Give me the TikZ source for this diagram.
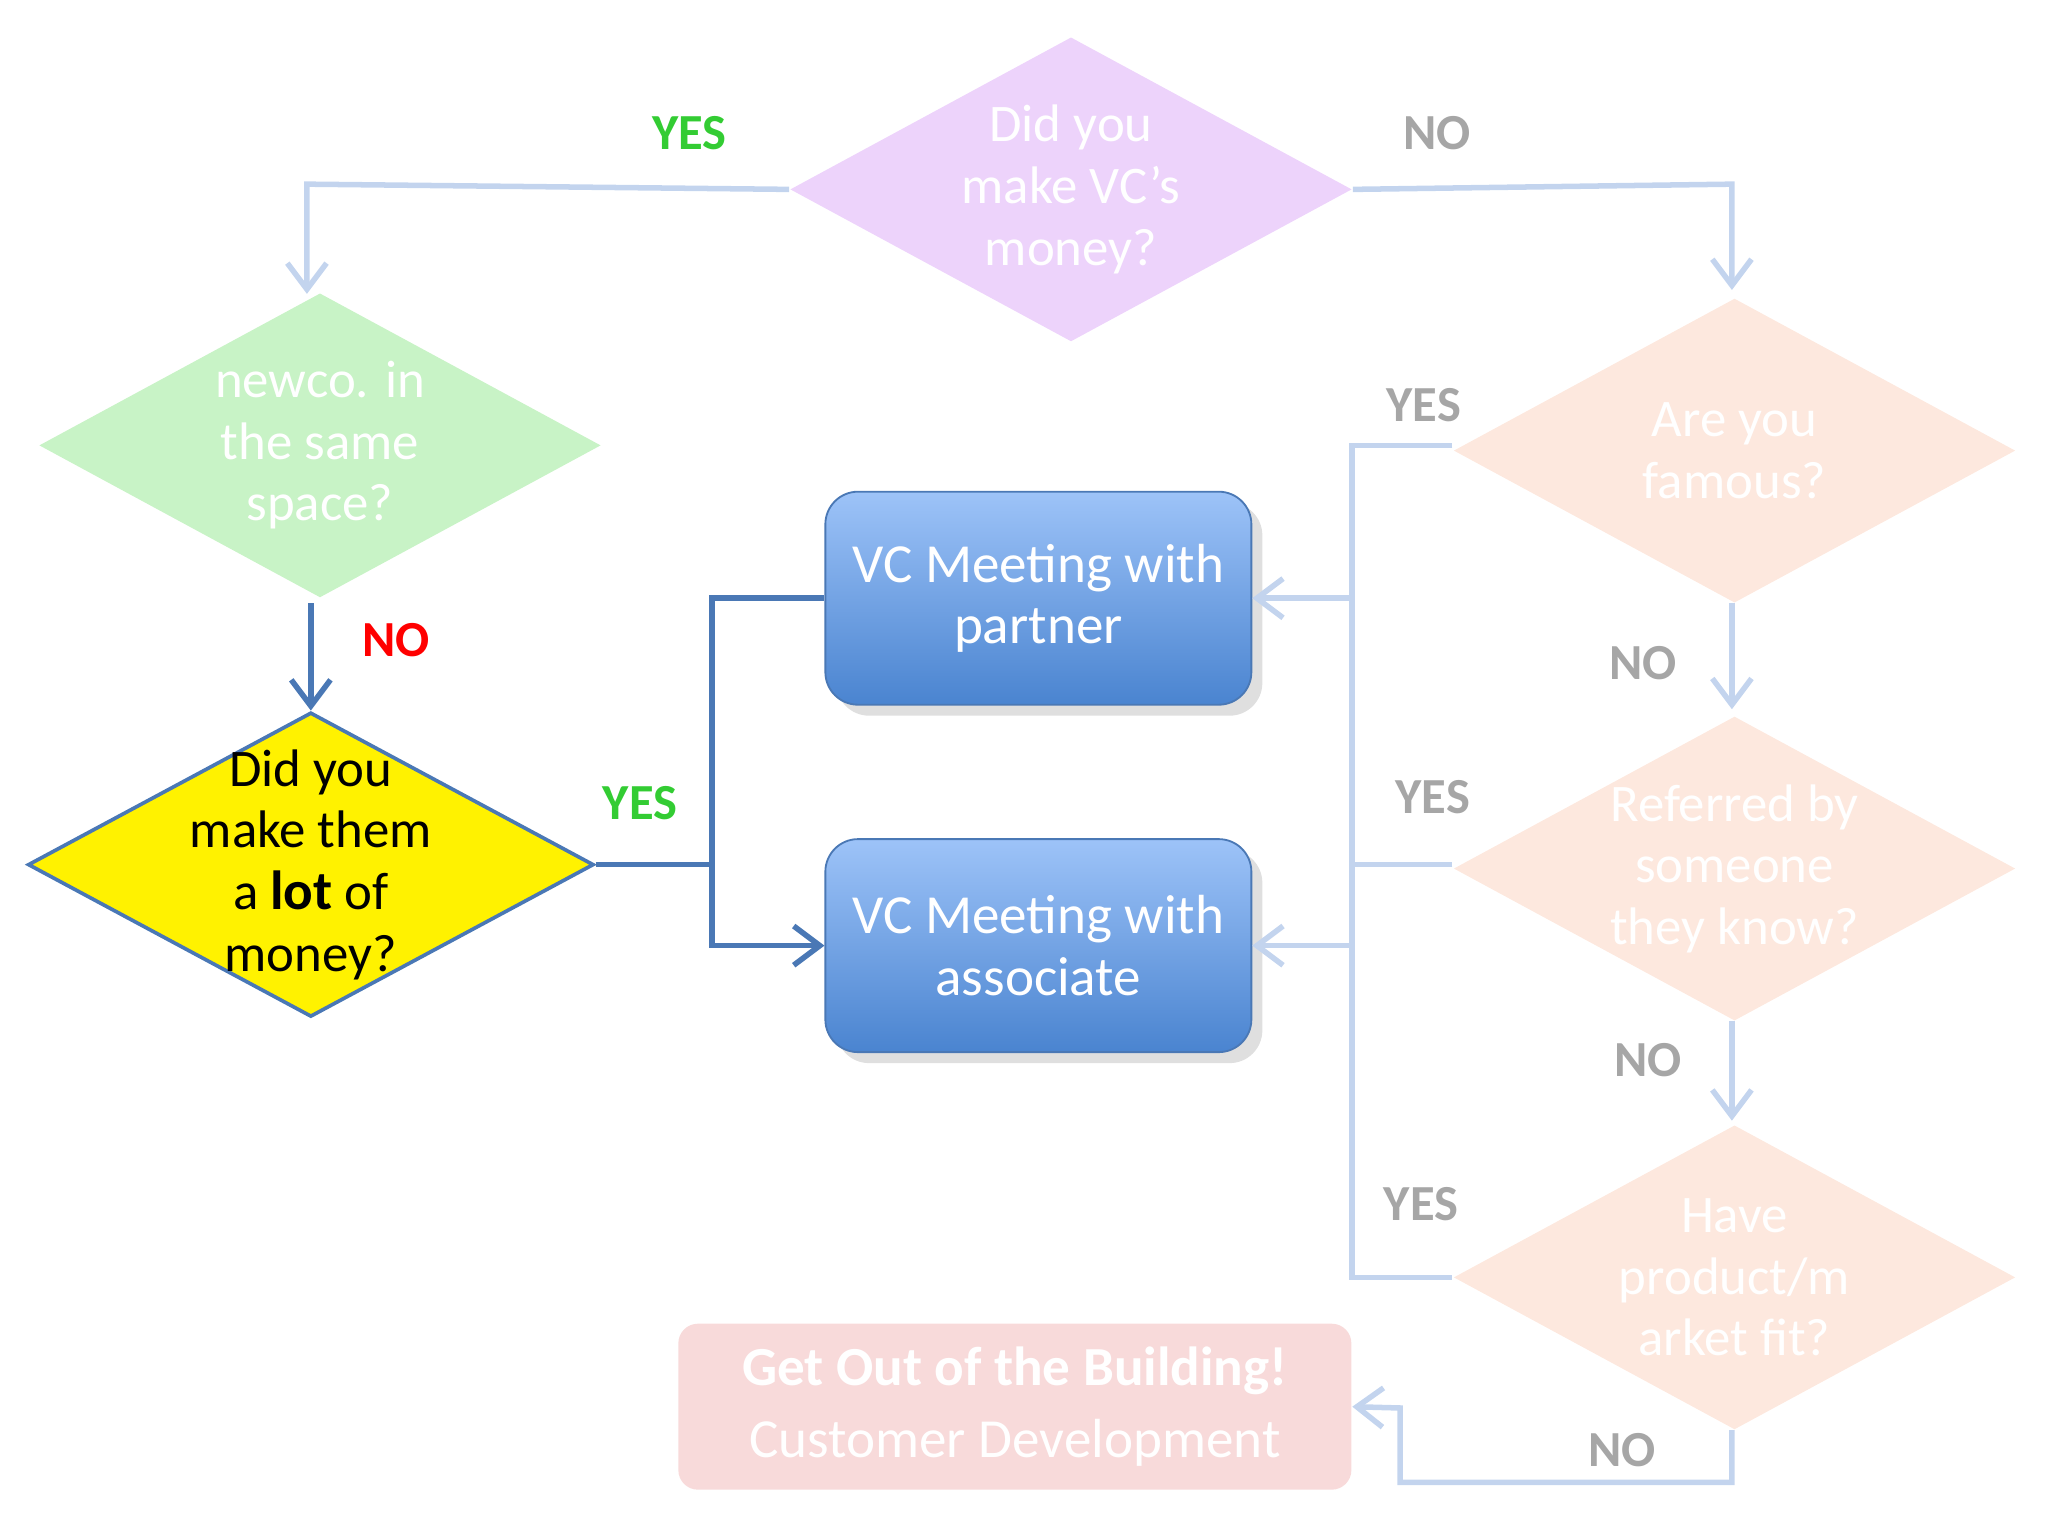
\documentclass[tikz,border=0pt]{standalone}
\usepackage{fontspec}
\setmainfont{Carlito}
\usetikzlibrary{shapes.geometric,arrows.meta,shadows}
\definecolor{lblue}{HTML}{C3D4EE}
\definecolor{dblue}{HTML}{4A78B5}
\definecolor{gtxt}{HTML}{A6A6A6}
\definecolor{ygreen}{HTML}{33CC33}
\definecolor{bt}{HTML}{9DC3F8}
\definecolor{bb}{HTML}{4A84D0}
\definecolor{pur}{HTML}{EDD3FB}
\definecolor{grn}{HTML}{C8F3C6}
\definecolor{ora}{HTML}{FDE8DE}
\definecolor{pnk}{HTML}{F8DADA}
\tikzset{
  dia/.style={diamond,draw=none,minimum width=4.3cm,minimum height=2.33cm,inner sep=0pt,
    label={[align=center,font=\fontsize{11.5}{13.4}\selectfont,text=white]center:#1}},
  box/.style={rounded corners=0.25cm,draw=dblue,top color=bt,bottom color=bb,minimum width=3.26cm,minimum height=1.63cm,align=center,text=white,font=\fontsize{12}{13.4}\selectfont,drop shadow={opacity=0.25}},
  lab/.style={font=\fontsize{11}{13}\selectfont\bfseries,text=gtxt},
  la/.style={draw=lblue,line width=1.2pt,-{Straight Barb[length=2mm,width=3mm]}},
  ln/.style={draw=lblue,line width=1.2pt},
  da/.style={draw=dblue,line width=1.2pt,-{Straight Barb[length=2mm,width=3mm]}},
  dn/.style={draw=dblue,line width=1.2pt}
}
\begin{document}
\begin{tikzpicture}[x=0.01cm,y=-0.01cm]
\useasboundingbox (0,0) rectangle (1568,1176);
\node[dia={Did you\\make VC’s\\money?},fill=pur] (p) at (820,145) {};
\node[dia={newco. in\\the same\\space?},fill=grn] (g) at (245,341) {};
\node[diamond,fill=yellow,draw=dblue,line width=0.8pt,minimum width=4.33cm,minimum height=2.33cm,inner sep=0pt,
  label={[align=center,font=\fontsize{11.5}{13.4}\selectfont,text=black]center:Did you\\make them\\a \textbf{\large lot} of\\money?}] (y) at (238,662) {};
\node[dia={Are you\\famous?},fill=ora] (o1) at (1328,345) {};
\node[dia={Referred by\\someone\\they know?},fill=ora] (o2) at (1328,665) {};
\node[dia={Have\\product/m\\arket fit?},fill=ora] (o3) at (1328,978) {};
\node[box] (b1) at (795,458) {VC Meeting with\\partner};
\node[box] (b2) at (795,724) {VC Meeting with\\associate};
\node[fill=pnk,rounded corners=0.15cm,minimum width=5.15cm,minimum height=1.27cm,align=center,text=white,font=\fontsize{12}{15.5}\selectfont] (c) at (777,1077) {\textbf{Get Out of the Building!}\\Customer Development};
\coordinate (t1) at (235,141); \coordinate (t2) at (1326,141);
\coordinate (j1) at (1035,341); \coordinate (j2) at (1035,662); \coordinate (j3) at (1035,978);
\coordinate (jb) at (1035,458); \coordinate (ja) at (1035,724);
\coordinate (r1) at (1326,1135); \coordinate (r2) at (1072,1135); \coordinate (r3) at (1072,1078);
\coordinate (s1) at (545,662); \coordinate (s2) at (545,458); \coordinate (s3) at (545,724);
\draw[la] (p.west) -- (t1) -- (235,225);
\draw[la] (p.east) -- (t2) -- (1326,222);
\draw[la] (1326,462) -- (1326,543);
\draw[la] (1326,782) -- (1326,858);
\draw[la] (1326,1095) -- (r1) -- (r2) -- (r3) -- (c.east);
\draw[ln] (1112,341) -- (j1) -- (j3) -- (1112,978);
\draw[ln] (1112,662) -- (j2);
\draw[la] (jb) -- (b1.east);
\draw[la] (ja) -- (b2.east);
\draw[da] (238,462) -- (y.north);
\draw[dn] (y.east) -- (s1) -- (s2) -- (b1.west);
\draw[da] (s1) -- (s3) -- (b2.west);
\node[lab,text=ygreen] at (528,102) {YES};
\node[lab] at (1100,102) {NO};
\node[lab] at (1090,310) {YES};
\node[lab,text=red] at (303,490) {NO};
\node[lab,text=ygreen] at (490,615) {YES};
\node[lab] at (1258,508) {NO};
\node[lab] at (1097,610) {YES};
\node[lab] at (1262,812) {NO};
\node[lab] at (1088,922) {YES};
\node[lab] at (1242,1110) {NO};
\end{tikzpicture}
\end{document}
